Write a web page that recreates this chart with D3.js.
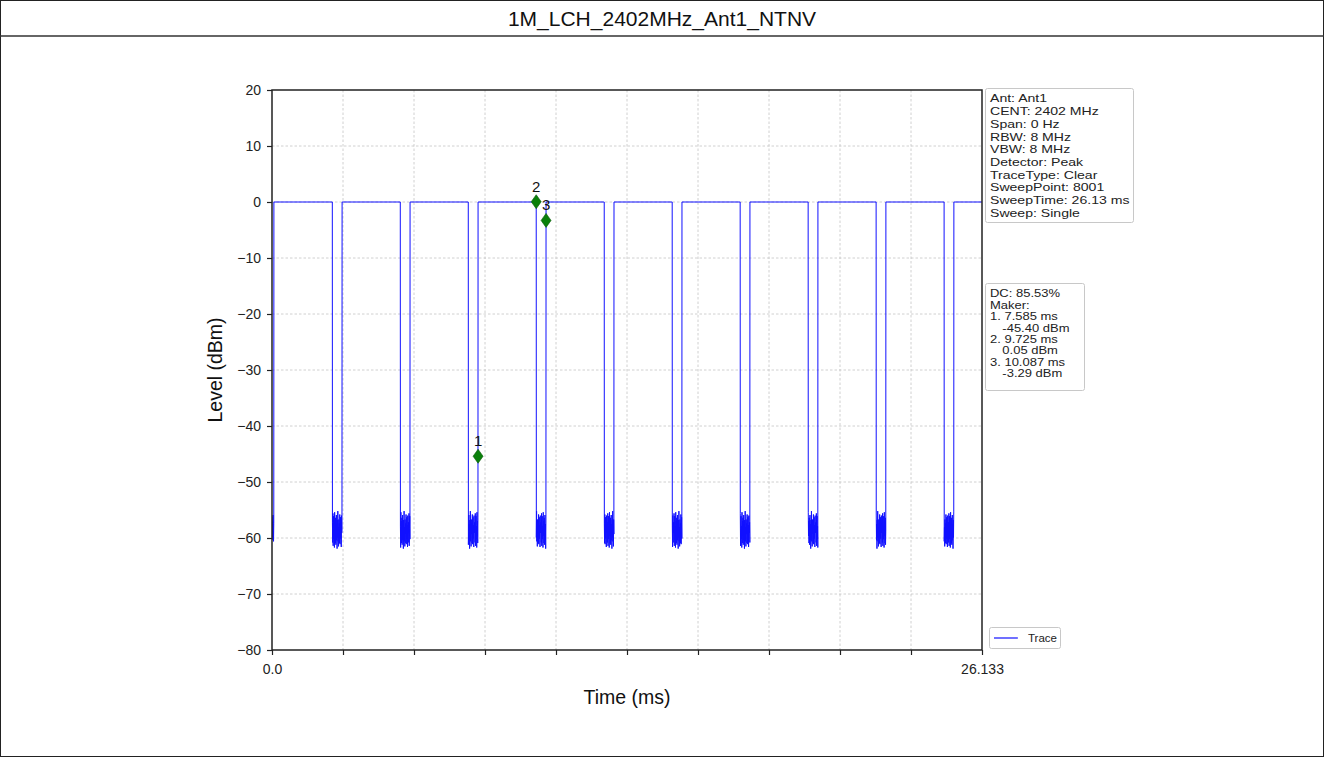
<!DOCTYPE html>
<html>
<head>
<meta charset="utf-8">
<script src="https://cdn.jsdelivr.net/npm/d3@7"></script>
<style>
  body { margin: 0; background: #fff; }
  svg { display: block; font-family: "Liberation Sans", Arial, Helvetica, sans-serif; }
</style>
</head>
<body>
<svg id="chart" width="1324" height="757"></svg>
<script>
// ---- chart content ----
const chartTitle = "1M_LCH_2402MHz_Ant1_NTNV";
const xLabel = "Time (ms)";
const yLabel = "Level (dBm)";

const timeDomain = [0, 26.133];
const levelDomain = [-80, 20];
const levelTicks = [20, 10, 0, -10, -20, -30, -40, -50, -60, -70, -80];
const timeTicks = [0, 2.6133, 5.2266, 7.8399, 10.4532, 13.0665, 15.6798, 18.2931, 20.9064, 23.5197, 26.133];
const timeTickLabels = ["0.0", "", "", "", "", "", "", "", "", "", "26.133"];

// transmit bursts (ms) and carrier level while on (dBm)
const burstStart = [0.07, 2.58, 5.082, 7.585, 10.087, 12.588, 15.09, 17.592, 20.094, 22.596, 25.098];
const burstEnd   = [2.22, 4.722, 7.224, 9.725, 12.228, 14.73, 17.232, 19.734, 22.236, 24.738, 26.133];
const carrierLevel = 0;

// noise floor readings between bursts (dBm)
const noiseFloor = [
  -57.2, -60.8, -55.6, -61.4, -58.3, -56.1, -60.2, -57.9, -61.7, -55.4,
  -59.6, -57.0, -60.9, -56.4, -61.2, -58.8, -55.9, -60.4, -57.5, -61.9,
  -56.8, -59.9, -55.2, -60.6, -58.1, -61.5, -56.7, -59.3, -57.4, -60.9,
  -55.8, -61.1, -58.6, -56.3, -60.1, -57.7, -61.6, -56.0, -59.1, -58.4
];
const leadingNoise = [-56.2, -59.8, -57.1, -60.3, -55.9, -58.7, -60.6, -57.4];

// markers
const markerLabels = ["1", "2", "3"];
const markerTimes  = [7.585, 9.725, 10.087];
const markerLevels = [-45.40, 0.05, -3.29];

// info panels
const settingsLines = [
  "Ant: Ant1", "CENT: 2402 MHz", "Span: 0 Hz", "RBW: 8 MHz", "VBW: 8 MHz",
  "Detector: Peak", "TraceType: Clear", "SweepPoint: 8001", "SweepTime: 26.13 ms", "Sweep: Single"
];
const dutyLines = [
  ["DC: 85.53%", 0], ["Maker:", 0],
  ["1. 7.585 ms", 0], ["-45.40 dBm", 1],
  ["2. 9.725 ms", 0], ["0.05 dBm", 1],
  ["3. 10.087 ms", 0], ["-3.29 dBm", 1]
];
const legendLabel = "Trace";

// ---- layout ----
const W = 1324, H = 757;
const plot = { left: 272, right: 982, top: 90, bottom: 650 };
const traceColor = "#1010ff";
const markerColor = "#0a800a";

const svg = d3.select("#chart");

// page frame and title band
svg.append("rect").attr("x", 0.5).attr("y", 0.5).attr("width", W - 1).attr("height", H - 1)
  .attr("fill", "#fff").attr("stroke", "#222").attr("stroke-width", 1);
svg.append("line").attr("x1", 0).attr("x2", W).attr("y1", 36).attr("y2", 36)
  .attr("stroke", "#333").attr("stroke-width", 1.5);
svg.append("text").attr("x", W / 2).attr("y", 26).attr("text-anchor", "middle")
  .attr("font-size", 21).attr("fill", "#111").text(chartTitle);

const x = d3.scaleLinear().domain(timeDomain).range([plot.left, plot.right]);
const y = d3.scaleLinear().domain(levelDomain).range([plot.bottom, plot.top]);

// grid
const grid = svg.append("g").attr("stroke", "#c4c4c4").attr("stroke-width", 0.8)
  .attr("stroke-dasharray", "2.5,2");
grid.selectAll("line.gx").data(timeTicks.slice(1, -1)).join("line")
  .attr("x1", d => x(d)).attr("x2", d => x(d)).attr("y1", plot.top).attr("y2", plot.bottom);
grid.selectAll("line.gy").data(levelTicks.slice(1, -1)).join("line")
  .attr("y1", d => y(d)).attr("y2", d => y(d)).attr("x1", plot.left).attr("x2", plot.right);

// trace
const pts = [];
const gapSpan = (a, b, vals) => {
  const n = vals.length;
  vals.forEach((v, i) => pts.push([a + (b - a) * (i + 0.5) / n, v]));
};
gapSpan(0, burstStart[0], leadingNoise);
burstStart.forEach((s, i) => {
  pts.push([s, carrierLevel]);
  pts.push([burstEnd[i], carrierLevel]);
  if (i + 1 < burstStart.length) {
    const rot = (i * 7) % noiseFloor.length;
    gapSpan(burstEnd[i], burstStart[i + 1], noiseFloor.slice(rot).concat(noiseFloor.slice(0, rot)));
  }
});

svg.append("clipPath").attr("id", "plotClip").append("rect")
  .attr("x", plot.left).attr("y", plot.top)
  .attr("width", plot.right - plot.left).attr("height", plot.bottom - plot.top);

svg.append("path").datum(pts)
  .attr("clip-path", "url(#plotClip)")
  .attr("fill", "none").attr("stroke", traceColor).attr("stroke-width", 1)
  .attr("stroke-linejoin", "round")
  .attr("d", d3.line().x(d => x(d[0])).y(d => y(d[1])));

// axes
const xAxis = d3.axisBottom(x).tickValues(timeTicks).tickSize(5).tickPadding(9)
  .tickFormat((d, i) => timeTickLabels[i]);
const yAxis = d3.axisLeft(y).tickValues(levelTicks).tickSize(5).tickPadding(6)
  .tickFormat(d => d < 0 ? "\u2212" + Math.abs(d) : String(d));

const gx = svg.append("g").attr("transform", `translate(0,${plot.bottom})`).call(xAxis);
const gy = svg.append("g").attr("transform", `translate(${plot.left},0)`).call(yAxis);
[gx, gy].forEach(g => {
  g.select(".domain").remove();
  g.selectAll(".tick line").attr("stroke", "#222").attr("stroke-width", 1.2);
  g.selectAll(".tick text").attr("font-size", 14).attr("fill", "#222")
    .attr("font-family", "'Liberation Sans', Arial, sans-serif");
});

// plot frame
svg.append("rect").attr("x", plot.left).attr("y", plot.top)
  .attr("width", plot.right - plot.left).attr("height", plot.bottom - plot.top)
  .attr("fill", "none").attr("stroke", "#222").attr("stroke-width", 1.5);

// axis titles
svg.append("text").attr("x", (plot.left + plot.right) / 2).attr("y", 704)
  .attr("text-anchor", "middle").attr("font-size", 19.5).attr("fill", "#111").text(xLabel);
svg.append("text").attr("transform", `translate(222,${(plot.top + plot.bottom) / 2}) rotate(-90)`)
  .attr("text-anchor", "middle").attr("font-size", 19.5).attr("fill", "#111").text(yLabel);

// markers
const mk = svg.append("g");
markerTimes.forEach((t, i) => {
  const mx = x(t), my = y(markerLevels[i]);
  mk.append("path").attr("d", "M0,-7L5,0L0,7L-5,0Z")
    .attr("transform", `translate(${mx},${my})`)
    .attr("fill", markerColor).attr("stroke", "#0a5a0a").attr("stroke-width", 0.6);
  mk.append("text").attr("x", mx).attr("y", my - 10).attr("text-anchor", "middle")
    .attr("font-size", 15).attr("fill", "#111").text(markerLabels[i]);
});

// info panels: rounded boxes with tightly stacked, slightly widened text
const panel = (x0, y0, w, h) => svg.append("rect").attr("x", x0).attr("y", y0)
  .attr("width", w).attr("height", h).attr("rx", 2)
  .attr("fill", "#fff").attr("stroke", "#c8c8c8").attr("stroke-width", 1);

panel(985.5, 88.5, 148, 134);
svg.append("g").attr("transform", "translate(990,0) scale(1.28,1)")
  .selectAll("text").data(settingsLines).join("text")
  .attr("x", 0).attr("y", (d, i) => 102.5 + i * 12.7)
  .attr("font-size", 11).attr("fill", "#222").text(d => d);

panel(985.5, 283.5, 99, 107);
svg.append("g").attr("transform", "translate(990,0) scale(1.3,1)")
  .selectAll("text").data(dutyLines).join("text")
  .attr("x", d => d[1] ? 9.5 : 0).attr("y", (d, i) => 297.5 + i * 11.4)
  .attr("font-size", 10).attr("fill", "#222").text(d => d[0]);

// legend
panel(989.5, 627.5, 71, 21);
svg.append("line").attr("x1", 994).attr("x2", 1018).attr("y1", 638).attr("y2", 638)
  .attr("stroke", traceColor).attr("stroke-width", 1.2);
svg.append("text").attr("x", 1028).attr("y", 642).attr("font-size", 11.5)
  .attr("fill", "#222").text(legendLabel);
</script>
</body>
</html>
